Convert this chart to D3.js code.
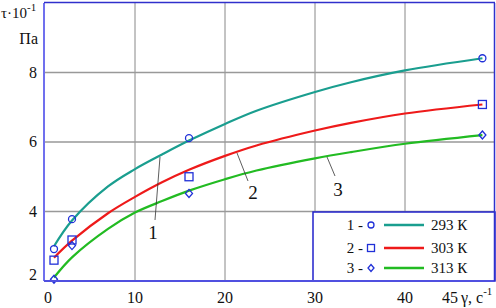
<!DOCTYPE html>
<html>
<head>
<meta charset="utf-8">
<script src="https://cdn.jsdelivr.net/npm/d3@7"></script>
<style>
  body { margin: 0; background: #fff; }
  svg { display: block; }
  svg text { font-family: "Liberation Serif", "DejaVu Serif", serif; }
</style>
</head>
<body>
<svg width="496" height="308"></svg>
<script>
// fitted curves
const curveX = [1, 3, 7, 10, 13, 16, 20, 23.5, 30, 34, 40, 48.6];
const curve293 = [3.0, 3.74, 4.72, 5.22, 5.64, 6.04, 6.52, 6.9, 7.44, 7.72, 8.06, 8.41];
const curve303 = [2.67, 3.16, 3.95, 4.42, 4.84, 5.2, 5.6, 5.9, 6.33, 6.55, 6.82, 7.08];
const curve313 = [2.1, 2.68, 3.5, 3.97, 4.3, 4.6, 4.93, 5.18, 5.53, 5.71, 5.95, 6.2];

// measured points
const pointX = [1, 3, 16, 48.6];
const points293 = [2.92, 3.78, 6.11, 8.41];
const points303 = [2.6, 3.18, 5.0, 7.08];
const points313 = [2.05, 3.02, 4.52, 6.2];

const xTicks = [0, 10, 20, 30, 40, 45];
const yTicks = [2, 4, 6, 8];
const legendNames = ["1 -", "2 -", "3 -"];
const legendTemps = ["293 К", "303 К", "313 К"];

var svg = d3.select("svg").attr("fill", "#111");
var plotLeft = 45, plotRight = 495, plotTop = 3, plotBottom = 281;

var x = d3.scaleLinear().domain([0, 50]).range([plotLeft, plotRight]);
var y = d3.scaleLinear().domain([2, 10]).range([plotBottom, plotTop]);

var colors = ["#1a9e8f", "#ee1a1a", "#22bb22"];
var markBlue = "#2030d8";

var series = [
    {curve: curve293, pts: points293, shape: "circle"},
    {curve: curve303, pts: points303, shape: "square"},
    {curve: curve313, pts: points313, shape: "diamond"}
];

// grid
svg.append("g").selectAll("line")
    .data([10, 20, 30, 40])
    .enter().append("line")
    .attr("x1", d => x(d)).attr("x2", d => x(d))
    .attr("y1", plotTop).attr("y2", plotBottom)
    .attr("stroke", "#888").attr("stroke-width", 1);
svg.append("g").selectAll("line")
    .data([4, 6, 8])
    .enter().append("line")
    .attr("x1", plotLeft).attr("x2", plotRight)
    .attr("y1", d => y(d)).attr("y2", d => y(d))
    .attr("stroke", "#999").attr("stroke-width", 1.5);

// curves
var line = d3.line()
    .x(d => x(d[0]))
    .y(d => y(d[1]))
    .curve(d3.curveCatmullRom.alpha(0.5));

series.forEach(function(s, i) {
    svg.append("path")
        .attr("d", line(curveX.map((v, j) => [v, s.curve[j]])))
        .attr("fill", "none")
        .attr("stroke", colors[i])
        .attr("stroke-width", 2.2);
});

function drawMarker(g, shape, cx, cy, r) {
    r = r || 4;
    if (shape == "circle") {
        g.append("circle").attr("cx", cx).attr("cy", cy).attr("r", r - 0.5)
            .attr("fill", "none").attr("stroke", markBlue).attr("stroke-width", 1.3);
    } else if (shape == "square") {
        g.append("rect").attr("x", cx - r).attr("y", cy - r).attr("width", 2 * r).attr("height", 2 * r)
            .attr("fill", "none").attr("stroke", markBlue).attr("stroke-width", 1.3);
    } else {
        g.append("path")
            .attr("d", "M" + cx + "," + (cy - r) + "L" + (cx + r - 0.5) + "," + cy + "L" + cx + "," + (cy + r) + "L" + (cx - r + 0.5) + "," + cy + "Z")
            .attr("fill", "none").attr("stroke", markBlue).attr("stroke-width", 1.3);
    }
}

var marks = svg.append("g");
series.forEach(function(s) {
    pointX.forEach(function(px, j) {
        drawMarker(marks, s.shape, x(px), y(s.pts[j]));
    });
});

// annotations with leader lines
var notes = [
    {t: "1", x1: 160, y1: 157, x2: 155, y2: 220, tx: 153, ty: 239},
    {t: "2", x1: 237, y1: 153, x2: 248, y2: 181, tx: 253, ty: 199},
    {t: "3", x1: 327, y1: 157, x2: 335, y2: 176, tx: 338, ty: 196}
];
notes.forEach(function(n) {
    svg.append("line").attr("x1", n.x1).attr("y1", n.y1).attr("x2", n.x2).attr("y2", n.y2)
        .attr("stroke", "#333").attr("stroke-width", 0.8);
    svg.append("text").attr("x", n.tx).attr("y", n.ty)
        .attr("text-anchor", "middle").style("font-size", "19px").text(n.t);
});

// legend box
var lg = svg.append("g");
lg.append("rect")
    .attr("x", 313).attr("y", 212).attr("width", plotRight - 313).attr("height", plotBottom - 212)
    .attr("fill", "#fff").attr("stroke", "#2222cc").attr("stroke-width", 1.5);
var rowY = [225, 248, 268];
series.forEach(function(s, i) {
    lg.append("text").attr("x", 363).attr("y", rowY[i] + 5)
        .attr("text-anchor", "end").style("font-size", "15px").text(legendNames[i]);
    drawMarker(lg, s.shape, 371, rowY[i], 3.5);
    lg.append("line").attr("x1", 384).attr("x2", 424)
        .attr("y1", rowY[i]).attr("y2", rowY[i])
        .attr("stroke", colors[i]).attr("stroke-width", 2.5);
    lg.append("text").attr("x", 431).attr("y", rowY[i] + 5)
        .style("font-size", "15px").text(legendTemps[i]);
});

// frame
svg.append("line").attr("x1", plotLeft - 1).attr("x2", plotLeft - 1).attr("y1", plotTop).attr("y2", plotBottom)
    .attr("stroke", "#7070ee").attr("stroke-width", 2);
svg.append("line").attr("x1", plotLeft - 1).attr("x2", plotRight).attr("y1", plotBottom).attr("y2", plotBottom)
    .attr("stroke", "#5050e0").attr("stroke-width", 2);
svg.append("line").attr("x1", plotLeft - 1).attr("x2", plotRight).attr("y1", plotTop - 0.5).attr("y2", plotTop - 0.5)
    .attr("stroke", "#3030cc").attr("stroke-width", 1.5);
svg.append("line").attr("x1", plotRight - 0.5).attr("x2", plotRight - 0.5).attr("y1", plotTop).attr("y2", plotBottom)
    .attr("stroke", "#3030cc").attr("stroke-width", 1.5);

// tick labels
svg.append("g").selectAll("text")
    .data(yTicks)
    .enter().append("text")
    .attr("x", 37)
    .attr("y", d => d == 2 ? y(d) - 1 : y(d) + 5)
    .attr("text-anchor", "end")
    .style("font-size", "16px")
    .text(d => d);

svg.append("g").selectAll("text")
    .data(xTicks)
    .enter().append("text")
    .attr("x", d => d == 0 ? x(d) + 3 : x(d))
    .attr("y", 303)
    .attr("text-anchor", "middle")
    .style("font-size", "16px")
    .text(d => d);

// axis titles
var yt = svg.append("text").attr("x", 1).attr("y", 18).style("font-size", "15px");
yt.append("tspan").text("τ·10");
yt.append("tspan").attr("dy", -7).style("font-size", "11px").text("-1");
svg.append("text").attr("x", 38).attr("y", 44).attr("text-anchor", "end")
    .style("font-size", "16px").text("Па");

var xt = svg.append("text").attr("x", 461).attr("y", 303).style("font-size", "16px");
xt.append("tspan").text("γ, с");
xt.append("tspan").attr("dy", -8).style("font-size", "11px").text("-1");
</script>
</body>
</html>
